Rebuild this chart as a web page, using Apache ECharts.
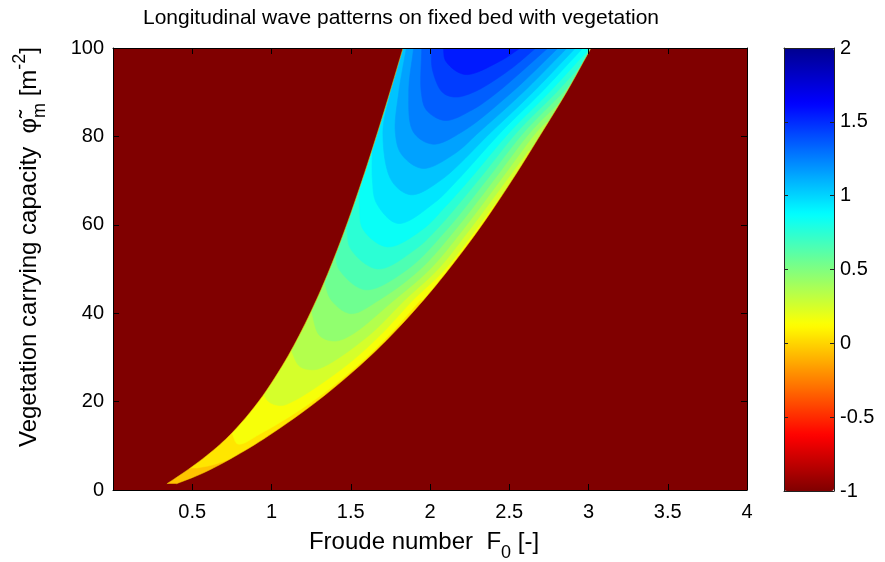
<!DOCTYPE html>
<html>
<head>
<meta charset="utf-8">
<script src="https://cdn.jsdelivr.net/npm/echarts@6/dist/echarts.min.js"></script>
<style>
  html, body { margin: 0; padding: 0; background: #ffffff; }
  #chart { width: 885px; height: 562px; }
</style>
</head>
<body>
<div id="chart"></div>
<script>
const FONT = '"Liberation Sans", Arial, Helvetica, sans-serif';

// Axis ranges
const froudeRange = [0, 4];
const phiRange = [0, 100];
const valueRange = [-1, 2];

// Edges of the unstable wedge, [F0, phi_m], listed from the tip upwards
const leftEdge = [
  [0.34, 1.4], [0.428, 3.5], [0.50, 5.3], [0.633, 9], [0.753, 13], [0.918, 20], [1.066, 28], [1.175, 35],
  [1.283, 43], [1.367, 50], [1.464, 59], [1.571, 70], [1.670, 81], [1.747, 90], [1.830, 100]
];
const rightEdge = [
  [0.40, 1.4], [0.547, 3.5], [0.651, 5.3], [0.836, 9], [1.012, 13], [1.285, 20], [1.553, 28], [1.756, 35],
  [1.96, 43], [2.12, 50], [2.309, 59], [2.516, 70], [2.708, 81], [2.861, 90], [3.016, 100]
];

// Lower bound of each colour band and its iso-line, [F0, phi_m] from left end to right end
const bandLevels = [-0.1, 0.0, 0.1, 0.2, 0.3, 0.4, 0.5, 0.6, 0.7, 0.8, 0.9, 1.0, 1.1, 1.2, 1.3, 1.4, 1.5];
const bandStep = 0.1;

const isoBase = [[-0.5, -5], [4.5, -5]];
const iso000 = [[-0.5, 5], [0.53, 5], [0.62, 5.6], [0.74, 7], [4.5, 7]];
const iso010 = [[-0.5, 13], [0.75, 13], [0.788, 10.4], [0.943, 13], [1.257, 20], [1.537, 28], [1.74, 35], [1.94, 43], [4.5, 43]];
const iso020 = [[-0.5, 22], [0.945, 22], [0.982, 20], [1.054, 19.1], [1.133, 20], [1.466, 28], [1.685, 35], [1.894, 43], [2.097, 50], [2.291, 59], [2.453, 66.9], [4.5, 66.9]];
const iso030 = [[-0.5, 32], [1.119, 32], [1.177, 28], [1.26, 27.2], [1.336, 28], [1.616, 35], [1.841, 43], [2.052, 50], [2.252, 59], [2.481, 70], [2.621, 76.8], [4.5, 76.8]];
const iso040 = [[-0.5, 41.2], [1.248, 41.2], [1.302, 35], [1.395, 33.7], [1.50, 35], [1.775, 43], [2.001, 50], [2.21, 59], [2.442, 70], [2.672, 81], [2.733, 83.25], [4.5, 83.25]];
const iso050 = [[-0.5, 47.3], [1.332, 47.3], [1.376, 43], [1.50, 39.9], [1.68, 43], [1.94, 50], [2.162, 59], [2.40, 70], [2.634, 81], [2.818, 87.75], [4.5, 87.75]];
const iso060 = [[-0.5, 53], [1.405, 53], [1.425, 50], [1.59, 45.3], [1.861, 50], [2.108, 59], [2.354, 70], [2.594, 81], [2.84, 90], [2.89, 92], [4.5, 92]];
const iso070 = [[-0.5, 59], [1.475, 59], [1.50, 54.5], [1.67, 50], [1.909, 54.5], [2.043, 59], [2.303, 70], [2.55, 81], [2.798, 90], [2.95, 96], [4.5, 96]];
const iso080 = [[-0.5, 68.2], [1.554, 68.2], [1.556, 64], [1.577, 59], [1.731, 55], [1.955, 59], [2.094, 64], [2.244, 70], [2.503, 81], [2.752, 90], [3.01, 100], [4.5, 100]];
const iso090 = [[-0.5, 76.8], [1.635, 76.8], [1.637, 70], [1.661, 65], [1.797, 60.3], [2.028, 65], [2.171, 70], [2.449, 81], [2.703, 90], [2.965, 100], [2.97, 101]];
const iso100 = [[-0.5, 90], [1.75, 90], [1.703, 81], [1.757, 70], [1.879, 66.8], [2.065, 70], [2.387, 81], [2.65, 90], [2.918, 100], [2.92, 101]];
const iso110 = [[1.85, 101], [1.851, 100], [1.803, 90], [1.781, 81], [1.819, 76], [1.953, 72.75], [2.152, 76], [2.311, 81], [2.588, 90], [2.865, 100], [2.87, 101]];
const iso120 = [[1.90, 101], [1.897, 100], [1.866, 90], [1.895, 81], [2.018, 78.25], [2.201, 81], [2.517, 90], [2.808, 100], [2.81, 101]];
const iso130 = [[1.95, 101], [1.948, 100], [1.945, 90], [1.977, 86], [2.094, 83.6], [2.266, 86], [2.426, 90], [2.744, 100], [2.75, 101]];
const iso140 = [[2.01, 101], [2.008, 100], [2.016, 95], [2.078, 90], [2.156, 88.9], [2.275, 90], [2.50, 95], [2.668, 100], [2.67, 101]];
const iso150 = [[2.08, 101], [2.084, 100], [2.10, 97], [2.22, 94], [2.44, 97], [2.57, 100], [2.57, 101]];

const isoLines = [isoBase, iso000, iso010, iso020, iso030, iso040, iso050, iso060, iso070,
  iso080, iso090, iso100, iso110, iso120, iso130, iso140, iso150];

// Value outside the wedge
const stableValue = -1;

// Jet colour scale, from the lowest value to the highest
const jetColors = ['#800000', '#ff0000', '#ff8000', '#ffff00', '#80ff80', '#00ffff', '#0080ff', '#0000ff', '#00008f'];

const bandData = bandLevels.map((lv, i) => [0, 0, lv + bandStep / 2, i]);

// Centripetal Catmull-Rom through pixel points, used to draw round iso-lines and edges
function splineThrough(px, steps) {
  if (px.length < 3) return px.slice();
  const out = [];
  const dist = (a, b) => Math.max(Math.sqrt(Math.hypot(b[0] - a[0], b[1] - a[1])), 1e-4);
  const mix = (a, b, wa, wb) => [a[0] * wa + b[0] * wb, a[1] * wa + b[1] * wb];
  for (let i = 0; i < px.length - 1; i++) {
    const p1 = px[i], p2 = px[i + 1];
    const p0 = i > 0 ? px[i - 1] : [2 * p1[0] - p2[0], 2 * p1[1] - p2[1]];
    const p3 = i + 2 < px.length ? px[i + 2] : [2 * p2[0] - p1[0], 2 * p2[1] - p1[1]];
    const t0 = 0, t1 = t0 + dist(p0, p1), t2 = t1 + dist(p1, p2), t3 = t2 + dist(p2, p3);
    for (let k = 0; k < steps; k++) {
      const t = t1 + (t2 - t1) * k / steps;
      const a1 = mix(p0, p1, (t1 - t) / (t1 - t0), (t - t0) / (t1 - t0));
      const a2 = mix(p1, p2, (t2 - t) / (t2 - t1), (t - t1) / (t2 - t1));
      const a3 = mix(p2, p3, (t3 - t) / (t3 - t2), (t - t2) / (t3 - t2));
      const b1 = mix(a1, a2, (t2 - t) / (t2 - t0), (t - t0) / (t2 - t0));
      const b2 = mix(a2, a3, (t3 - t) / (t3 - t1), (t - t1) / (t3 - t1));
      out.push(mix(b1, b2, (t2 - t) / (t2 - t1), (t - t1) / (t2 - t1)));
    }
  }
  out.push(px[px.length - 1]);
  return out;
}

const outside = p => p[0] < froudeRange[0] || p[0] > froudeRange[1] || p[1] > phiRange[1];

function bandItem(params, api) {
  const line = isoLines[api.value(3)];
  const first = line[0];
  const last = line[line.length - 1];
  let inner = line;
  const head = [], tail = [];
  if (line.length > 3) {
    if (outside(first)) { head.push(first); inner = inner.slice(1); }
    if (outside(last)) { tail.push(last); inner = inner.slice(0, -1); }
  }
  const smooth = splineThrough(inner.map(p => api.coord(p)), 10);
  const ring = head.map(p => api.coord(p))
    .concat(smooth)
    .concat(tail.map(p => api.coord(p)))
    .concat([api.coord([last[0], 110]), api.coord([first[0], 110])]);
  const color = api.visual('color');
  return {
    type: 'polygon',
    shape: { points: ring },
    style: { fill: color, stroke: color, lineWidth: 0.6 }
  };
}

function maskItem(params, api) {
  const leftPx = splineThrough(leftEdge.map(p => api.coord(p)), 6);
  const rightPx = splineThrough(rightEdge.map(p => api.coord(p)), 6);
  const lTop = leftEdge[leftEdge.length - 1][0];
  const rTop = rightEdge[rightEdge.length - 1][0];
  const ring = [[-0.5, -5], [-0.5, 110], [lTop, 110]].map(p => api.coord(p))
    .concat(leftPx.slice().reverse())
    .concat(rightPx)
    .concat([[rTop, 110], [4.5, 110], [4.5, -5]].map(p => api.coord(p)));
  const color = api.visual('color');
  return {
    type: 'group',
    children: [
      { type: 'polygon', shape: { points: ring }, style: { fill: color, stroke: null } },
      { type: 'polyline', shape: { points: leftPx }, style: { stroke: '#f0c800', lineWidth: 1, opacity: 0.55, fill: null } },
      { type: 'polyline', shape: { points: rightPx }, style: { stroke: '#f0c800', lineWidth: 1, opacity: 0.55, fill: null } }
    ]
  };
}

const chart = echarts.init(document.getElementById('chart'), null, { renderer: 'canvas' });

const tickText = { color: '#000', fontSize: 20, fontFamily: FONT };
const axisLine = { show: true, onZero: false, lineStyle: { color: '#000', width: 1 } };
const barLine = { show: true, onZero: false, lineStyle: { color: '#222', width: 1 } };

const option = {
  backgroundColor: '#ffffff',
  animation: false,
  grid: [
    { left: 113, right: 138, top: 48, bottom: 72 },
    { left: 784, width: 50, top: 48, bottom: 71 }
  ],
  xAxis: [
    {
      gridIndex: 0, type: 'value', min: froudeRange[0], max: froudeRange[1], interval: 0.5,
      position: 'bottom', z: 10, axisLine,
      axisTick: { show: true, inside: true, length: 6, lineStyle: { color: '#000' } },
      axisLabel: { ...tickText, margin: 12, showMinLabel: true, showMaxLabel: true,
        formatter: v => (v === 0 ? '' : String(v)) },
      splitLine: { show: false }
    },
    {
      gridIndex: 0, type: 'value', min: froudeRange[0], max: froudeRange[1], interval: 0.5,
      position: 'top', z: 10, axisLine,
      axisTick: { show: true, inside: true, length: 6, lineStyle: { color: '#000' } },
      axisLabel: { show: false }, splitLine: { show: false }
    },
    {
      gridIndex: 1, type: 'value', min: 0, max: 1, position: 'bottom', z: 10,
      axisLine: barLine, axisTick: { show: false }, axisLabel: { show: false }, splitLine: { show: false }
    },
    {
      gridIndex: 1, type: 'value', min: 0, max: 1, position: 'top', z: 10,
      axisLine: barLine, axisTick: { show: false }, axisLabel: { show: false }, splitLine: { show: false }
    }
  ],
  yAxis: [
    {
      gridIndex: 0, type: 'value', min: phiRange[0], max: phiRange[1], interval: 20,
      position: 'left', z: 10, axisLine,
      axisTick: { show: true, inside: true, length: 6, lineStyle: { color: '#000' } },
      axisLabel: { ...tickText, margin: 9, showMinLabel: true, showMaxLabel: true },
      splitLine: { show: false }
    },
    {
      gridIndex: 0, type: 'value', min: phiRange[0], max: phiRange[1], interval: 20,
      position: 'right', z: 10, axisLine,
      axisTick: { show: true, inside: true, length: 6, lineStyle: { color: '#000' } },
      axisLabel: { show: false }, splitLine: { show: false }
    },
    {
      gridIndex: 1, type: 'value', min: valueRange[0], max: valueRange[1], interval: 0.5,
      position: 'right', z: 10, axisLine: barLine,
      axisTick: { show: true, inside: true, length: 4, lineStyle: { color: '#222' } },
      axisLabel: { ...tickText, margin: 6, showMinLabel: true, showMaxLabel: true },
      splitLine: { show: false }
    },
    {
      gridIndex: 1, type: 'value', min: valueRange[0], max: valueRange[1], interval: 0.5,
      position: 'left', z: 10, axisLine: barLine,
      axisTick: { show: true, inside: true, length: 4, lineStyle: { color: '#222' } },
      axisLabel: { show: false }, splitLine: { show: false }
    }
  ],
  visualMap: {
    type: 'continuous',
    min: valueRange[0], max: valueRange[1],
    dimension: 2,
    seriesIndex: [0, 1],
    left: 784, top: 48,
    itemWidth: 50, itemHeight: 443,
    padding: 0,
    calculable: false,
    hoverLink: false,
    text: ['', ''],
    inRange: { color: jetColors }
  },
  series: [
    {
      name: 'bands', type: 'custom', xAxisIndex: 0, yAxisIndex: 0, clip: true, z: 2,
      dimensions: ['x', 'y', 'level', 'index'], encode: { x: 0, y: 1 },
      renderItem: bandItem, data: bandData, silent: true
    },
    {
      name: 'stable', type: 'custom', xAxisIndex: 0, yAxisIndex: 0, clip: true, z: 3,
      dimensions: ['x', 'y', 'level', 'index'], encode: { x: 0, y: 1 },
      renderItem: maskItem, data: [[0, 0, stableValue, 0]], silent: true
    }
  ],
  graphic: [
    {
      type: 'text', x: 401, y: 18,
      style: {
        text: 'Longitudinal wave patterns on fixed bed with vegetation',
        fill: '#000', font: '21px ' + FONT, align: 'center', verticalAlign: 'middle'
      }
    },
    {
      type: 'text', x: 424, y: 546,
      style: {
        text: '{t|Froude number  F}{s|0}{t| [-]}',
        align: 'center', verticalAlign: 'middle',
        rich: {
          t: { fill: '#000', fontSize: 24, fontFamily: FONT, verticalAlign: 'bottom', padding: [0, 0, 8, 0] },
          s: { fill: '#000', fontSize: 18, fontFamily: FONT, verticalAlign: 'bottom' }
        }
      }
    },
    {
      type: 'text', x: 30, y: 247, rotation: Math.PI / 2,
      style: {
        text: '{t|Vegetation carrying capacity  }{t|\u03c6\u0303}{s|m}{t| [m}{u|-2}{t|]}',
        align: 'center', verticalAlign: 'middle',
        rich: {
          t: { fill: '#000', fontSize: 24, fontFamily: FONT, verticalAlign: 'bottom', padding: [0, 0, 8, 0] },
          s: { fill: '#000', fontSize: 18, fontFamily: FONT, verticalAlign: 'bottom' },
          u: { fill: '#000', fontSize: 18, fontFamily: FONT, verticalAlign: 'bottom', padding: [0, 0, 20, 0] }
        }
      }
    }
  ]
};

chart.setOption(option);
</script>
</body>
</html>
